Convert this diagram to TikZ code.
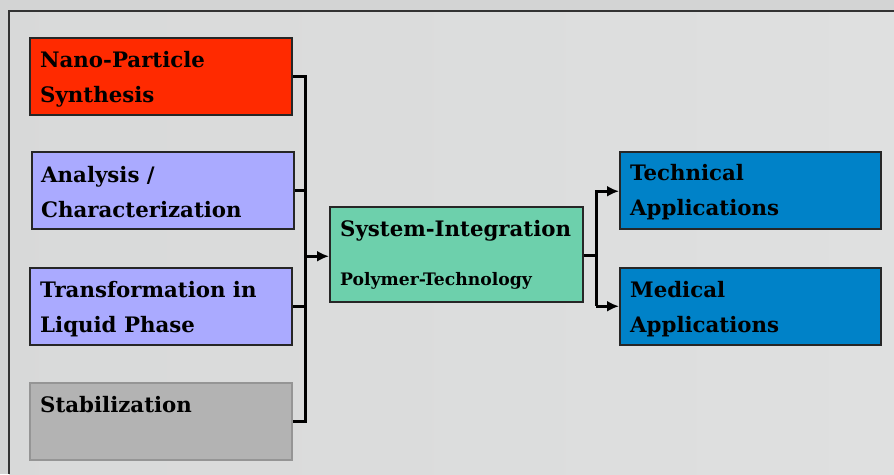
\documentclass[tikz,border=0pt]{standalone}
\usepackage{fontspec}
\setmainfont{DejaVu Serif}
\usetikzlibrary{arrows.meta}

\definecolor{bgGrey}{HTML}{DFE0E0}
\definecolor{bgEdge}{HTML}{D3D4D4}
\definecolor{synthRed}{HTML}{FF2A00}
\definecolor{stepLav}{HTML}{AAAAFF}
\definecolor{stabGrey}{HTML}{B3B3B3}
\definecolor{stabEdge}{HTML}{959595}
\definecolor{integGreen}{HTML}{6DD0AC}
\definecolor{appBlue}{HTML}{0082C8}

% two stacked lines whose baseline is that of the first line
\newcommand{\pairlines}[2]{\vtop{\baselineskip=35pt\hbox{#1}\hbox{#2}}}

\tikzset{
  stagebox/.style={draw=black!85, line width=1.5pt, anchor=north west,
    minimum width=262pt, minimum height=77pt, inner sep=0pt},
  boxlabel/.style={anchor=base west, inner sep=0pt,
    font=\fontsize{21.3pt}{25pt}\selectfont\bfseries},
  smalllabel/.style={anchor=base west, inner sep=0pt,
    font=\fontsize{17.2pt}{20pt}\selectfont\bfseries},
  wire/.style={line width=3pt, black},
  flow/.style={wire, -{Latex[length=12pt,width=11pt]}}
}

\begin{document}
\begin{tikzpicture}[x=1pt,y=-1pt]
  \useasboundingbox (0,0) rectangle (894,474);
  \fill[bgEdge] (0,0) rectangle (894,474);
  \shade[left color=bgGrey!97!black, right color=bgGrey] (9,11) rectangle (894,474);

  % frame of the slide (right and bottom sides run off the page)
  \draw[line width=1.6pt, black!80] (894,11) -- (9,11) -- (9,474);

  % process stages on the left
  \node[stagebox, fill=synthRed] (nano) at (29,37) {};
  \node[stagebox, fill=stepLav] (ana) at (31,151) {};
  \node[stagebox, fill=stepLav] (trans) at (29,267) {};
  \node[stagebox, fill=stabGrey, draw=stabEdge] (stab) at (29,382) {};

  \node[boxlabel] (nanoT) at ([shift={(11,30)}]nano.north west)
    {\pairlines{Nano-Particle}{Synthesis}};
  \node[boxlabel] (anaT) at ([shift={(10,31)}]ana.north west)
    {\pairlines{Analysis /}{Characterization}};
  \node[boxlabel] (transT) at ([shift={(11,30)}]trans.north west)
    {\pairlines{Transformation in}{Liquid Phase}};
  \node[boxlabel] (stabT) at ([shift={(11,30)}]stab.north west)
    {Stabilization};

  % integration stage
  \node[stagebox, fill=integGreen, minimum width=253pt, minimum height=95pt]
    (sys) at (329,206) {};
  \node[boxlabel] (sysT) at ([shift={(11,30)}]sys.north west)
    {System-Integration};
  \node[smalllabel] (polyT) at ([shift={(11,79)}]sys.north west)
    {Polymer-Technology};

  % applications
  \node[stagebox, fill=appBlue, minimum width=261pt] (tech) at (619,151) {};
  \node[stagebox, fill=appBlue, minimum width=261pt] (med) at (619,267) {};
  \node[boxlabel] (techT) at ([shift={(11,29)}]tech.north west)
    {\pairlines{Technical}{Applications}};
  \node[boxlabel] (medT) at ([shift={(11,30)}]med.north west)
    {\pairlines{Medical}{Applications}};

  % collecting bus and split point
  \coordinate (bus) at (305,0);
  \coordinate (split) at (596,0);

  \draw[wire] (nano.east) -- (nano.east -| bus) -- (stab.east -| bus) -- (stab.east);
  \draw[wire] (ana.east) -- (ana.east -| bus);
  \draw[wire] (trans.east) -- (trans.east -| bus);
  \draw[flow] ([yshift=-2pt]sys.west -| bus) -- ([yshift=-2pt]sys.west);

  \draw[wire] ([yshift=-1pt]sys.east) -- ([yshift=-1pt]sys.east -| split);
  \draw[wire] (tech.west -| split) -- (med.west -| split);
  \draw[flow] ([yshift=-1pt]tech.west -| split) -- ([yshift=-1pt]tech.west);
  \draw[flow] (med.west -| split) -- (med.west);
\end{tikzpicture}
\end{document}
